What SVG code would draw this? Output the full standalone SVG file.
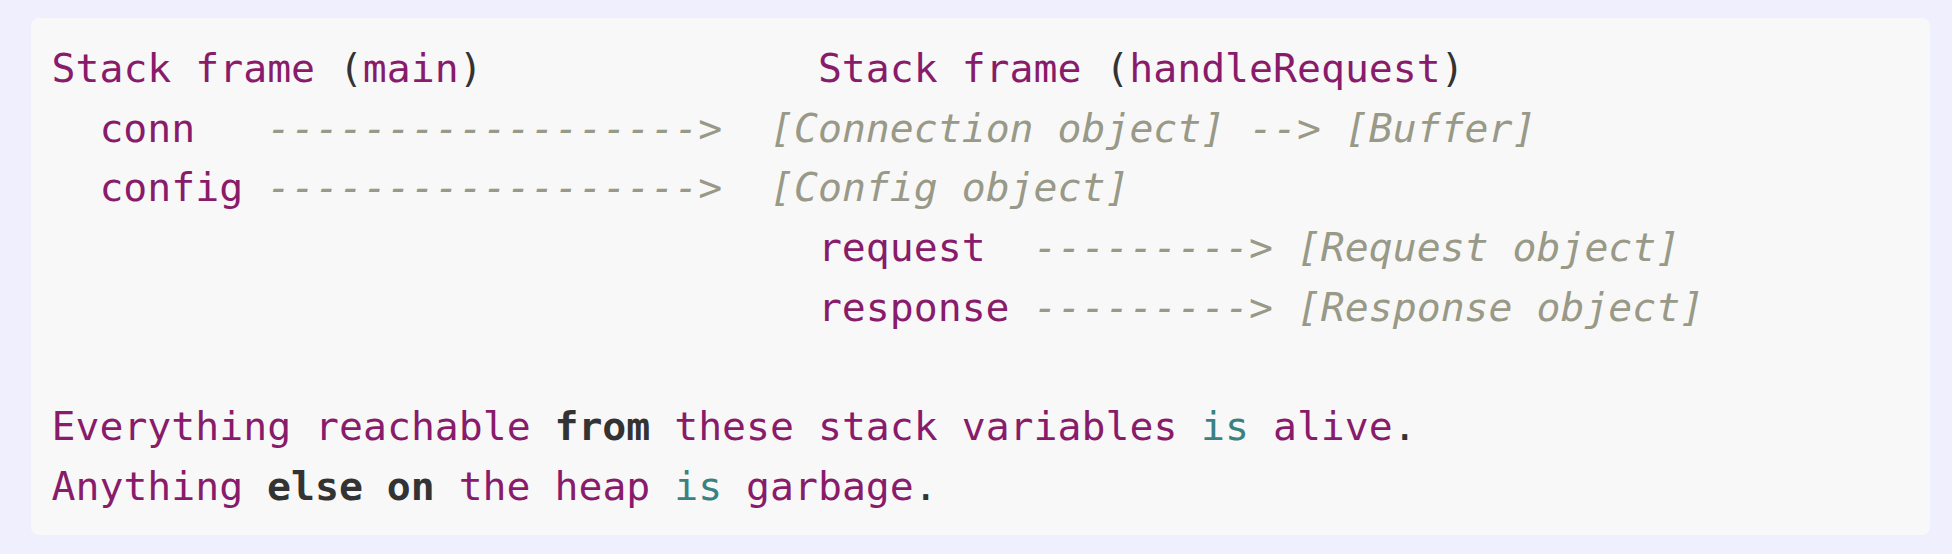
<svg xmlns="http://www.w3.org/2000/svg" width="1952" height="554" viewBox="0 0 1952 554">
<style>
text{font-family:"DejaVu Sans Mono","Liberation Mono",monospace;font-size:39.8px;white-space:pre}
.k{fill:#891b6b}
.p{fill:#333333}
.b{fill:#333333;font-weight:bold}
.t{fill:#3a8282}
.c{fill:#999988;font-style:italic}
</style>
<rect x="0" y="0" width="1952" height="554" fill="#f0effe"/>
<rect x="31" y="18" width="1899" height="517" rx="8" fill="#f8f8f8"/>
<g id="main-frame">
<text y="82"><tspan class="k" x="51.5">Stack frame</tspan><tspan class="p" x="338.9">(</tspan><tspan class="k" x="362.85">main</tspan><tspan class="p" x="458.65">)</tspan></text>
<text y="141.7" class="k" x="99.4">conn</text>
<text y="201.4" class="k" x="99.4">config</text>
</g>
<g id="handle-frame">
<text y="82"><tspan class="k" x="817.9">Stack frame</tspan><tspan class="p" x="1105.3">(</tspan><tspan class="k" x="1129.25">handleRequest</tspan><tspan class="p" x="1440.6">)</tspan></text>
<text y="261.1" class="k" x="817.9">request</text>
<text y="320.8" class="k" x="817.9">response</text>
</g>
<g id="heap-objects">
<text y="141.7" class="c" x="770">[Connection object]</text>
<text y="141.7" class="c" x="1344.8">[Buffer]</text>
<text y="201.4" class="c" x="770">[Config object]</text>
<text y="261.1" class="c" x="1296.9">[Request object]</text>
<text y="320.8" class="c" x="1296.9">[Response object]</text>
</g>
<g id="connectors">
<text y="141.7" class="c" x="267.05">------------------&gt;</text>
<text y="201.4" class="c" x="267.05">------------------&gt;</text>
<text y="141.7" class="c" x="1249">--&gt;</text>
<text y="261.1" class="c" x="1033.45">---------&gt;</text>
<text y="320.8" class="c" x="1033.45">---------&gt;</text>
</g>
<g id="summary">
<text y="440.2"><tspan class="k" x="51.5">Everything reachable</tspan><tspan class="b" x="554.45">from</tspan><tspan class="k" x="674.2">these stack variables</tspan><tspan class="t" x="1201.1">is</tspan><tspan class="k" x="1272.95">alive</tspan><tspan class="p" x="1392.7">.</tspan></text>
<text y="499.9"><tspan class="k" x="51.5">Anything</tspan><tspan class="b" x="267.05">else</tspan><tspan class="b" x="386.8">on</tspan><tspan class="k" x="458.65">the heap</tspan><tspan class="t" x="674.2">is</tspan><tspan class="k" x="746.05">garbage</tspan><tspan class="p" x="913.7">.</tspan></text>
</g>
</svg>
